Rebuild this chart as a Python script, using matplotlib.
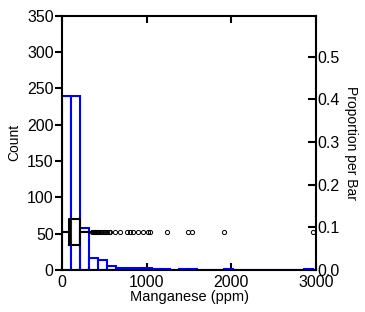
"""Manganese histogram with box plot and proportion axis"""

import numpy as np
import matplotlib.pyplot as plt

plt.rcParams['font.family'] = ['Liberation Sans', 'DejaVu Sans']

# histogram: bin width and counts
bin_width = 106
counts = [239, 239, 58, 16, 14, 5, 3, 3, 3, 2, 1, 1, 0, 1, 1, 0, 0, 0, 1,
          0, 0, 0, 0, 0, 0, 0, 0, 1]

# box plot summary (ppm)
box_q1 = 79
box_med = 92
box_q3 = 209
whisker_lo = 5
whisker_hi = 345
outliers = [355, 365, 375, 385, 395, 405, 415, 425, 440, 455, 470, 490, 510,
            530, 550, 567, 626, 685, 764, 803, 842, 901, 960, 1019, 1040,
            1236, 1490, 1530, 1913, 2965]

count_ticks = [0, 50, 100, 150, 200, 250, 300, 350]
prop_ticks = [0.0, 0.1, 0.2, 0.3, 0.4, 0.5]
x_ticks = [0, 1000, 2000, 3000]


def plot_manganese():
    fig = plt.figure(figsize=(3.65, 3.12), dpi=100)
    ax = fig.add_axes([0.170, 0.135, 0.696, 0.814])

    edges = np.arange(len(counts)) * bin_width
    ax.bar(edges, counts, width=bin_width, align='edge', facecolor='white',
           edgecolor='#0000ff', linewidth=1.5, zorder=2)

    stats = [{'med': box_med, 'q1': box_q1, 'q3': box_q3,
              'whislo': whisker_lo, 'whishi': whisker_hi, 'fliers': outliers}]
    ax.bxp(stats, positions=[52], widths=[35], vert=False, showcaps=False,
           patch_artist=False, manage_ticks=False,
           boxprops=dict(color='black', linewidth=1.5),
           medianprops=dict(color='black', linewidth=1.5),
           whiskerprops=dict(color='black', linewidth=1.5),
           flierprops=dict(marker='o', markersize=3, markerfacecolor='none',
                           markeredgecolor='black', markeredgewidth=0.7),
           zorder=3)

    ax.set_xlim(0, 3000)
    ax.set_ylim(0, 350)
    ax.set_xticks(x_ticks)
    ax.set_yticks(count_ticks)
    ax.tick_params(axis='x', direction='in', length=5, width=1.5,
                   labelsize=11.5, pad=4, top=True)
    ax.tick_params(axis='y', direction='out', length=5, width=1.5,
                   labelsize=11.5, pad=1)
    for side in ['left', 'right', 'top', 'bottom']:
        ax.spines[side].set_linewidth(1.5)
    ax.spines['right'].set_visible(False)
    ax.set_xlabel('Manganese (ppm)', fontsize=10.5, labelpad=0)
    ax.set_ylabel('Count', fontsize=10, labelpad=4)

    ax2 = ax.twinx()
    ax2.set_ylim(0, 350 / sum(counts))
    ax2.set_yticks(prop_ticks)
    ax2.set_yticklabels(['%.1f' % t for t in prop_ticks])
    ax2.tick_params(axis='y', direction='in', length=6, width=1.5,
                    labelsize=11.5, pad=1)
    ax2.spines['right'].set_linewidth(1.5)
    for side in ['left', 'top', 'bottom']:
        ax2.spines[side].set_visible(False)
    ax2.set_ylabel('Proportion per Bar', fontsize=10, rotation=270,
                   labelpad=13)

    fig.savefig('out.png', dpi=100)


if __name__ == '__main__':
    plot_manganese()
